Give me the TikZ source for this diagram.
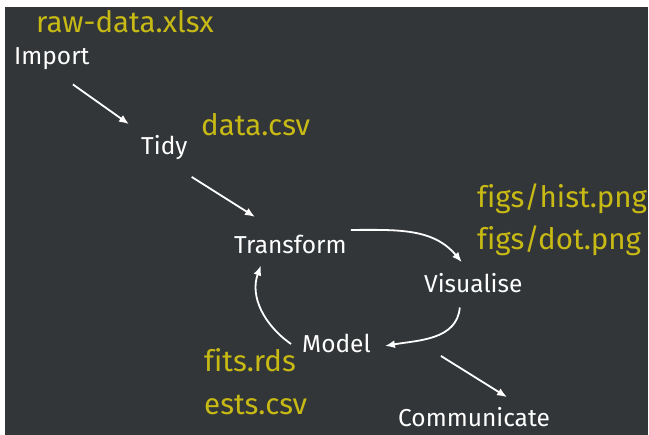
\documentclass[tikz,border=0pt]{standalone}
\usepackage{fontspec}
\setmainfont{Fira Sans}[Ligatures=CommonOff]
\usetikzlibrary{arrows.meta,calc}
\definecolor{slatebg}{RGB}{51,54,56}
\definecolor{fileyellow}{RGB}{200,186,20}

\begin{document}
\begin{tikzpicture}[x=1pt,y=-1pt,
    stage/.style={text=white,font=\fontsize{24.5}{28}\selectfont,anchor=base west,inner sep=4pt},
    file/.style={text=fileyellow,font=\fontsize{29.5}{33}\selectfont,anchor=base west,inner sep=0pt},
    flow/.style={draw=white,line width=1.8pt,-{Latex[length=10pt,width=8pt]}}]
        \useasboundingbox (0,0) rectangle (649,435);
        \fill[white] (0,0) rectangle (649,435);
        \fill[slatebg] (5,7) rectangle (648,435);

        % stages of the workflow
        \node[stage] (import) at (10,65) {Import};
        \node[stage] (tidy) at (137,155) {Tidy};
        \node[stage] (transform) at (230,254) {Transform};
        \node[stage] (visualise) at (420,293) {Visualise};
        \node[stage] (model) at (298,353) {Model};
        \node[stage] (communicate) at (394,427) {Communicate};

        % files written at each stage
        \node[file] (rawdata) at (36,33) {raw-data.xlsx};
        \node[file] (datacsv) at (201,136) {data.csv};
        \node[file] (histpng) at (477,208) {figs/hist.png};
        \node[file] (dotpng) at (477,250) {figs/dot.png};
        \node[file] (fitsrds) at (204,372) {fits.rds};
        \node[file] (estscsv) at (204,415) {ests.csv};

        \draw[flow] ($(import.south)+(21,10)$) -- ($(tidy.north west)+(-8,-7.5)$);
        \draw[flow] ($(tidy.south east)+(0,12.5)$) -- ($(transform.north west)+(25,-14.5)$);
        \draw[flow] ($(transform.north east)+(0,-1.5)$) to[out=0,in=130] ($(visualise.north)+(-11.5,-7.5)$);
        \draw[flow] ($(visualise.south)+(-13.5,10)$) to[out=-95,in=10] ($(model.east)+(10,2)$);
        \draw[flow] ($(model.west)+(-7,0)$) to[out=145,in=-110] ($(transform.south)+(-29.5,7)$);
        \draw[flow] ($(model.east)+(66,12)$) -- ($(communicate.north)+(33,-6.5)$);
\end{tikzpicture}
\end{document}
